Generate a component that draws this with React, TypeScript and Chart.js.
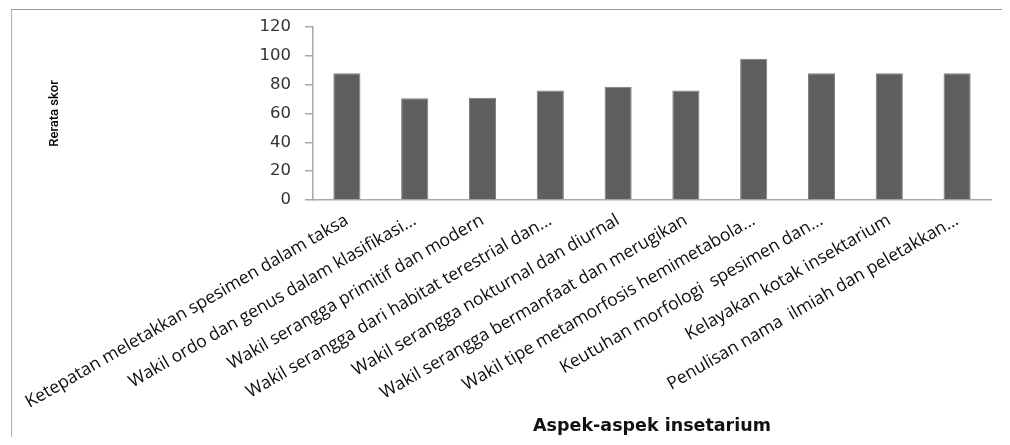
import React, { useEffect, useRef } from "react";
import { Chart, registerables } from "chart.js";

Chart.register(...registerables);

const categories: string[] = [
  "Ketepatan meletakkan spesimen dalam taksa",
  "Wakil ordo dan genus dalam klasifikasi...",
  "Wakil serangga primitif dan modern",
  "Wakil serangga dari habitat terestrial dan...",
  "Wakil serangga nokturnal dan diurnal",
  "Wakil serangga bermanfaat dan merugikan",
  "Wakil tipe metamorfosis hemimetabola...",
  "Keutuhan morfologi  spesimen dan...",
  "Kelayakan kotak insektarium",
  "Penulisan nama  ilmiah dan peletakkan...",
];

const scores: number[] = [88, 70.5, 71, 76, 78.5, 76, 98, 88, 88, 88];

const yTicks: number[] = [0, 20, 40, 60, 80, 100, 120];

const yTitle = "Rerata skor";
const xTitle = "Aspek-aspek insetarium";

export default function App() {
  const ref = useRef<HTMLCanvasElement | null>(null);

  useEffect(() => {
    if (!ref.current) return;
    const chart = new Chart(ref.current, {
      type: "bar",
      data: {
        labels: categories,
        datasets: [
          {
            label: yTitle,
            data: scores,
            backgroundColor: "#5e5e5e",
            borderColor: "#7c7c7c",
            borderWidth: 1,
            barPercentage: 0.4,
            categoryPercentage: 1,
          },
        ],
      },
      options: {
        animation: false,
        responsive: false,
        layout: { padding: { top: 17, right: 11, left: 0, bottom: 0 } },
        plugins: {
          legend: { display: false },
          tooltip: { enabled: false },
        },
        scales: {
          x: {
            afterFit: (s: any) => {
              s.height = 237;
              s.paddingLeft = 0;
              s.paddingRight = 0;
            },
            grid: { display: false, drawTicks: false },
            border: { display: true, color: "#a8a8a8", width: 1.5 },
            ticks: {
              autoSkip: false,
              minRotation: 30,
              maxRotation: 30,
              padding: 10,
              color: "#0d0d0d",
              font: { family: "'Open Sans', sans-serif", size: 17.5 },
            },
            title: {
              display: true,
              text: xTitle,
              color: "#111",
              padding: { top: 0, bottom: 0 },
              font: { family: "'DejaVu Sans', sans-serif", size: 17.5, weight: "bold" },
            },
          },
          y: {
            min: 0,
            max: 120,
            afterFit: (s: any) => {
              s.width = 301;
              s.paddingTop = 0;
              s.paddingBottom = 0;
            },
            afterBuildTicks: (s: any) => {
              s.ticks = yTicks.map((v) => ({ value: v }));
            },
            grid: {
              drawOnChartArea: false,
              drawTicks: true,
              tickLength: 8,
              color: "#a8a8a8",
              lineWidth: 1.5,
            },
            border: { display: true, color: "#a8a8a8", width: 1.5 },
            ticks: {
              padding: 14,
              color: "#333333",
              font: { family: "'DejaVu Sans', sans-serif", size: 16.5 },
            },
            title: {
              display: true,
              text: yTitle,
              color: "#000",
              padding: { top: 35, bottom: 0 },
              font: {
                family: "Roboto, sans-serif",
                size: 13,
                weight: 500,
              },
            },
          },
        },
      },
    });
    return () => chart.destroy();
  }, []);

  return (
    <div
      style={{
        marginLeft: 3,
        marginTop: 1,
        borderTop: "1px solid #9c9c9c",
        borderLeft: "1px solid #b0b0b0",
        width: 990,
        height: 427,
      }}
    >
      <canvas ref={ref} width={990} height={427} style={{ display: "block" }} />
    </div>
  );
}
